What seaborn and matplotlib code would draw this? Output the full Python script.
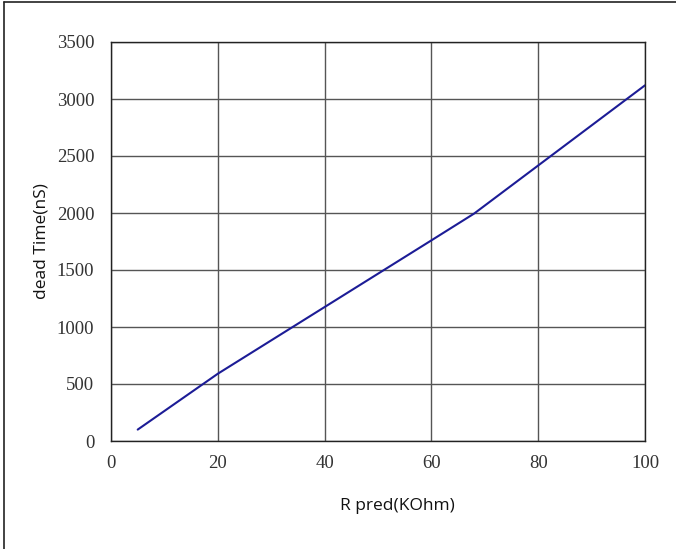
import matplotlib
matplotlib.use('Agg')
import matplotlib.pyplot as plt
import seaborn as sns
import pandas as pd
from matplotlib.lines import Line2D

# Valores
r_pred = [5, 20, 40, 60, 68, 100]
dead_time = [100, 590, 1175, 1760, 1995, 3120]

x_ticks = [0, 20, 40, 60, 80, 100]
y_ticks = [0, 500, 1000, 1500, 2000, 2500, 3000, 3500]

sns.set_theme(style="white")
plt.rcParams['font.family'] = ['Open Sans', 'DejaVu Sans']

df = pd.DataFrame({'R pred(KOhm)': r_pred, 'dead Time(nS)': dead_time})

fig = plt.figure(figsize=(6.76, 5.49), dpi=100)
ax = fig.add_axes([111 / 676, 1 - 441 / 549, 534 / 676, 399 / 549])

sns.lineplot(data=df, x='R pred(KOhm)', y='dead Time(nS)', ax=ax,
             color='#1c1c96', linewidth=1.5)

ax.set_xlim(0, 100)
ax.set_ylim(0, 3500)
ax.set_xticks(x_ticks)
ax.set_yticks(y_ticks)
ax.grid(True, color='#555555', linewidth=1.0)
ax.set_axisbelow(True)
for s in ax.spines.values():
    s.set_color('#222222')
    s.set_linewidth(1.0)

ax.tick_params(axis='both', length=0, labelcolor='#333333')
ax.tick_params(axis='y', pad=12)
ax.tick_params(axis='x', pad=10)
for lbl in ax.get_xticklabels() + ax.get_yticklabels():
    lbl.set_family(['Liberation Serif', 'DejaVu Serif'])
    lbl.set_fontsize(13.5)

ax.set_xlabel('R pred(KOhm)', fontsize=12.5, color='#111111', labelpad=19)
ax.xaxis.label.set_x(0.536)  # no original o rótulo fica um pouco à direita
ax.set_ylabel('dead Time(nS)', fontsize=12.5, color='#111111', labelpad=5)

# moldura da figura (só topo e esquerda aparecem no original)
fig.add_artist(Line2D([4 / 676, 1], [1 - 2 / 549, 1 - 2 / 549],
                      transform=fig.transFigure, color='#222222', linewidth=1.2))
fig.add_artist(Line2D([4 / 676, 4 / 676], [0, 1 - 2 / 549],
                      transform=fig.transFigure, color='#222222', linewidth=1.2))

fig.savefig('out.png', dpi=100)
